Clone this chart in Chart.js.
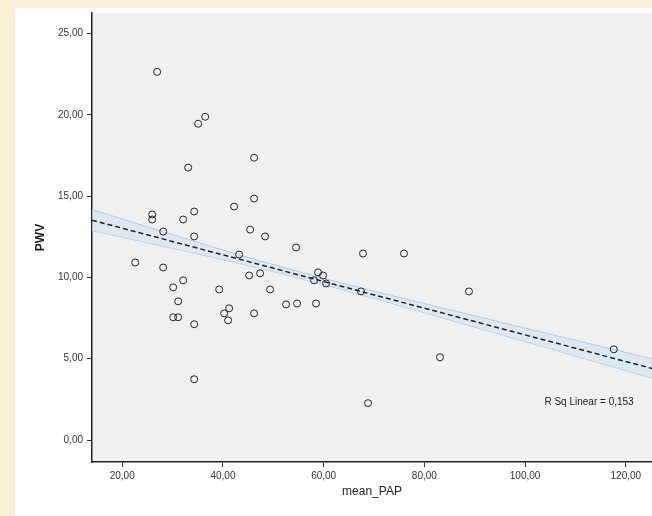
<!DOCTYPE html>
<html>
<head>
<meta charset="utf-8">
<script src="https://cdn.jsdelivr.net/npm/chart.js@4/dist/chart.umd.min.js"></script>
<style>
  html, body { margin:0; padding:0; }
  body { width:652px; height:516px; background:#fcefd7; position:relative; overflow:hidden; }
  #wrap { position:absolute; left:15px; top:8px; width:637px; height:508px; background:#fff; overflow:hidden; }
</style>
</head>
<body>
<div id="wrap"><canvas id="c" width="642" height="508"></canvas></div>
<script>
// scatter of PWV against mean_PAP, with linear fit and its band
const papVals = [26.94, 35.08, 36.47, 33.10, 46.19, 46.19, 42.22, 34.29, 25.95, 25.95,
  32.10, 28.13, 34.29, 45.40, 48.37, 54.52, 43.21, 67.82, 75.95, 22.58,
  28.13, 45.20, 47.38, 58.89, 59.88, 58.10, 60.48, 30.12, 32.10, 31.11,
  39.25, 49.37, 30.12, 31.11, 34.29, 40.24, 41.23, 41.03, 46.19, 52.54,
  54.72, 58.49, 67.42, 88.85, 34.29, 68.81, 83.10, 117.62];
const pwvVals = [22.64, 19.45, 19.88, 16.75, 17.36, 14.85, 14.36, 14.05, 13.87, 13.56,
  13.56, 12.82, 12.52, 12.94, 12.52, 11.84, 11.41, 11.47, 11.47, 10.92,
  10.61, 10.12, 10.25, 10.31, 10.12, 9.82, 9.63, 9.39, 9.82, 8.53,
  9.26, 9.26, 7.55, 7.55, 7.12, 7.79, 8.10, 7.36, 7.79, 8.34,
  8.40, 8.40, 9.14, 9.14, 3.74, 2.27, 5.09, 5.58];

// fit line ends and the band round it
const fitX = [14, 125.2];
const fitY = [13.52, 4.40];
const bandX = [14, 30, 45, 60, 75, 90, 105, 125.2];
const bandHi = [14.17, 12.63, 11.23, 9.95, 8.77, 7.64, 6.51, 5.00];
const bandLo = [12.87, 11.79, 10.73, 9.55, 8.27, 6.94, 5.61, 3.80];

const xTicks = [20, 40, 60, 80, 100, 120];
const yTicks = [0, 5, 10, 15, 20, 25];
const fitLabel = "R Sq Linear = 0,153";

function pts(xs, ys){ return xs.map((x,i)=>({x:x, y:ys[i]})); }
function comma(v){ return Number(v).toFixed(2).replace(".", ","); }
function noPad(s){ s.paddingTop = 0; s.paddingBottom = 0; s.paddingLeft = 0; s.paddingRight = 0; }

const plotBg = {
  id:"plotBg",
  beforeDraw(chart){
    const a = chart.chartArea, ctx = chart.ctx;
    ctx.save(); ctx.fillStyle = "#f0f0f0";
    ctx.fillRect(a.left, a.top, chart.width - a.left, a.bottom-a.top);
    ctx.restore();
  }
};
const fitText = {
  id:"fitText",
  afterDatasetsDraw(chart){
    const ctx = chart.ctx, sx = chart.scales.x, sy = chart.scales.y;
    ctx.save();
    ctx.font = "10px 'Liberation Sans', Arial, sans-serif";
    ctx.fillStyle = "#222"; ctx.textAlign = "center"; ctx.textBaseline = "middle";
    ctx.fillText(fitLabel, sx.getPixelForValue(112.7), sy.getPixelForValue(2.33));
    ctx.restore();
  }
};

new Chart(document.getElementById("c").getContext("2d"), {
  type:"scatter",
  data:{ datasets:[
    { label:"PWV", data:pts(papVals, pwvVals), pointStyle:"circle", pointRadius:3.5,
      borderColor:"#222", borderWidth:1, backgroundColor:"rgba(0,0,0,0)" },
    { label:"fit", data:pts(fitX, fitY), showLine:true, pointRadius:0,
      borderColor:"#222", borderWidth:1.5, borderDash:[5,3] },
    { label:"hi", data:pts(bandX, bandHi), showLine:true, pointRadius:0, tension:0.3,
      borderColor:"#b3cbe0", borderWidth:1, fill:"+1", backgroundColor:"rgba(205,225,243,0.55)" },
    { label:"lo", data:pts(bandX, bandLo), showLine:true, pointRadius:0, tension:0.3,
      borderColor:"#b3cbe0", borderWidth:1 }
  ]},
  options:{
    responsive:false, animation:false,
    layout:{ padding:{ top:4, right:0, left:0, bottom:0 } },
    plugins:{ legend:{display:false}, tooltip:{enabled:false} },
    scales:{
      x:{ type:"linear", min:14, max:125.2,
        afterBuildTicks(s){ s.ticks = xTicks.map(v=>({value:v})); },
        afterFit(s){ s.height = 54; noPad(s); },
        ticks:{ callback:comma, color:"#333", padding:3, maxRotation:0,
          font:{ size:10, family:"'Liberation Sans', Arial, sans-serif" } },
        grid:{ drawOnChartArea:false, drawTicks:true, tickLength:5, color:"#333" },
        border:{ display:true, color:"#222", width:1.5 },
        title:{ display:true, text:"mean_PAP", color:"#222", padding:{top:0, bottom:17},
          font:{ size:12, family:"'Liberation Sans', Arial, sans-serif" } } },
      y:{ type:"linear", min:-1.35, max:26.26,
        afterBuildTicks(s){ s.ticks = yTicks.map(v=>({value:v})); },
        afterFit(s){ s.width = 77; noPad(s); },
        ticks:{ callback:comma, color:"#333", padding:4,
          font:{ size:10, family:"'Liberation Sans', Arial, sans-serif" } },
        grid:{ drawOnChartArea:false, drawTicks:true, tickLength:5, color:"#333" },
        border:{ display:true, color:"#222", width:1.5 },
        title:{ display:true, text:"PWV", color:"#222", padding:{top:18, bottom:0},
          font:{ size:12, weight:"bold", family:"'Liberation Sans', Arial, sans-serif" } } }
    }
  },
  plugins:[plotBg, fitText]
});
</script>
</body>
</html>
